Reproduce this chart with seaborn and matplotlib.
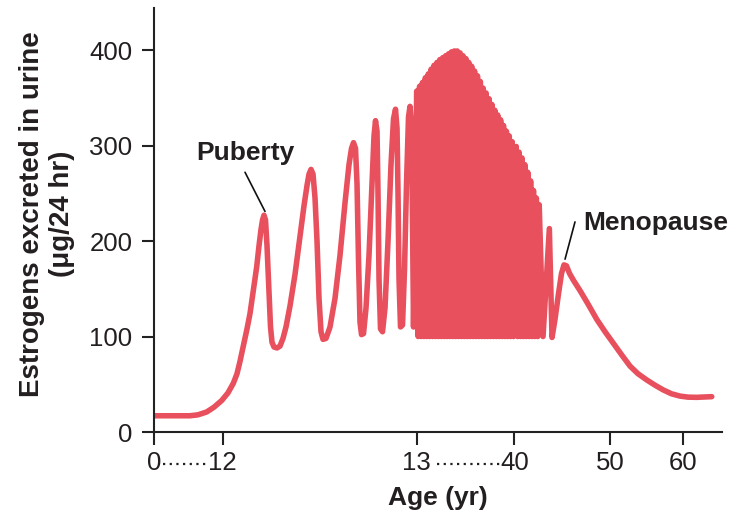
import numpy as np
import pandas as pd
import matplotlib
matplotlib.use("Agg")
import matplotlib.pyplot as plt
import matplotlib.transforms as mtransforms
import seaborn as sns

# ---------------- data (age in years, estrogens in µg/24 hr) ----------------
early_age = [0.0, 6.29, 7.69, 9.21, 10.48, 11.83,
             12.0273, 12.0546, 12.0737, 12.0892, 12.1021, 12.1098, 12.1253, 12.1407,
             12.1562, 12.1753, 12.1871, 12.1974, 12.2052, 12.2129, 12.2206, 12.2284,
             12.2387, 12.2464, 12.2541, 12.2644, 12.2799, 12.2954, 12.3108, 12.3263,
             12.3469, 12.3727, 12.3985, 12.4191, 12.4345, 12.4448, 12.4552, 12.4655,
             12.4758, 12.4861, 12.4964, 12.5067, 12.5170, 12.5325, 12.5531, 12.5789,
             12.6046, 12.6304, 12.6510, 12.6639, 12.6742, 12.6845, 12.6923, 12.7000,
             12.7077, 12.7155, 12.7258, 12.7387, 12.7541, 12.7696, 12.7799, 12.7876,
             12.7954, 12.8005, 12.8057, 12.8134, 12.8237, 12.8366, 12.8521, 12.8675,
             12.8804, 12.8907, 12.8985, 12.9036, 12.9088, 12.9165, 12.9268, 12.9371,
             12.9474, 12.9577, 12.9655, 12.9732, 12.9784, 12.9835]
early_val = [17, 17, 18, 21, 26, 33,
             41, 51, 61, 74, 86, 93, 108, 124,
             146, 173, 195, 212, 222, 227, 222, 195,
             145, 110, 94, 89, 88, 90, 98, 110,
             132, 165, 205, 237, 258, 270, 275, 270,
             245, 200, 140, 105, 97, 98, 110, 140,
             185, 240, 280, 297, 303, 297, 260, 180,
             115, 102, 103, 130, 185, 260, 310, 326,
             315, 250, 160, 108, 105, 130, 200, 280,
             328, 338, 318, 250, 160, 110, 112, 170,
             260, 330, 341, 320, 220, 110]

band_peak_age = [13.0, 13.8, 14.6, 15.4, 16.2, 17.0, 17.8, 18.6, 19.4, 20.2, 21.0,
                 21.8, 22.6, 23.4, 24.2, 25.0, 25.8, 26.6, 27.4, 28.2, 29.0, 29.8,
                 30.6, 31.4, 32.2, 33.0, 33.8, 34.6, 35.4, 36.2, 37.0, 37.8, 38.6,
                 39.4, 40.2, 40.5, 40.8, 41.1, 41.4, 41.7, 42.0, 42.3, 42.6]
band_peak_val = [357, 362, 366, 371, 375, 380, 384, 387, 390, 392, 394,
                 396, 398, 399, 399, 397, 394, 391, 387, 383, 378, 373,
                 367, 360, 355, 349, 343, 337, 332, 327, 321, 315, 310,
                 304, 299, 293, 287, 280, 272, 263, 253, 245, 238]
band_trough_val = 100

late_age = [43.0, 43.66, 43.94, 44.25, 44.62, 44.93, 45.19, 45.45, 45.77, 46.17,
            46.87, 47.70, 48.61, 49.48, 50.45, 51.58, 52.75, 53.85, 55.05, 56.19,
            57.33, 58.46, 59.63, 60.73, 61.93, 63.99]
late_val = [100, 213, 99, 118, 145, 166, 175, 174, 166, 159,
            148, 134, 118, 105, 93, 81, 69, 61, 54.5, 49,
            44, 40, 37.6, 36.5, 36.3, 37]

xtick_ages = [0, 12, 13, 40, 50, 60]
xtick_labels = ["0", "12", "13", "40", "50", "60"]
ytick_vals = [0, 100, 200, 300, 400]

# ---------------- assemble the curve ----------------
band_age, band_val = [], []
for i, (a, v) in enumerate(zip(band_peak_age, band_peak_val)):
    band_age.append(a)
    band_val.append(v)
    if i < len(band_peak_age) - 1:
        band_age.append((a + band_peak_age[i + 1]) / 2)
        band_val.append(band_trough_val)

df = pd.DataFrame({
    "age": early_age + band_age + late_age,
    "estrogen": early_val + band_val + late_val,
})

# ---------------- broken (piecewise) age axis ----------------
AXIS_AGE = np.array([-10, 0, 12, 13, 40, 50, 60, 80], float)
AXIS_POS = np.array([-57.25, 0, 68.7, 262.7, 360.3, 456.0, 528.7, 674.1])


def fwd(a):
    return np.interp(np.asarray(a, float), AXIS_AGE, AXIS_POS)


def inv(p):
    return np.interp(np.asarray(p, float), AXIS_POS, AXIS_AGE)


# ---------------- style ----------------
sns.set_theme(style="ticks")
plt.rcParams["font.family"] = ["Liberation Sans", "DejaVu Sans"]
TXT = "#231F20"
RED = "#E8505E"

fig = plt.figure(figsize=(7.35, 5.21), dpi=100)
ax = fig.add_axes([154 / 735, 89 / 521, (721.7 - 154) / 735, (513 - 89) / 521])
ax.set_xscale("function", functions=(fwd, inv))

sns.lineplot(data=df, x="age", y="estrogen", sort=False, estimator=None,
             color=RED, linewidth=4.0, ax=ax,
             solid_joinstyle="round", solid_capstyle="round")

ax.set_xlim(0, 65.36)
ax.set_ylim(0, 444)
ax.set_xticks(xtick_ages)
ax.set_xticklabels(xtick_labels)
ax.set_yticks(ytick_vals)
ax.set_yticklabels([str(v) for v in ytick_vals])
ax.minorticks_off()

sns.despine(ax=ax)
for s in ("left", "bottom"):
    ax.spines[s].set_linewidth(1.5)
    ax.spines[s].set_color("#222222")
ax.tick_params(axis="both", length=9, width=1.5, color="#222222",
               labelsize=18.5, labelcolor=TXT)
ax.tick_params(axis="x", pad=4.5)
ax.tick_params(axis="y", pad=6.5)

ax.set_xlabel("Age (yr)", fontsize=19, fontweight="bold", color=TXT)
ax.xaxis.set_label_coords(0.5, -0.128)
ax.set_ylabel("Estrogens excreted in urine\n(μg/24 hr)", fontsize=20,
              fontweight="bold", color=TXT, linespacing=1.2)
ax.yaxis.set_label_coords(-0.14, 0.515)

# dotted connectors between broken-axis tick labels
blend = mtransforms.blended_transform_factory(ax.transData, ax.transAxes)
for a0, a1 in [(1.6, 9.2), (18.6, 36.0)]:
    ax.plot([a0, a1], [-0.075, -0.075], transform=blend, clip_on=False,
            color=TXT, lw=1.6, linestyle=(0, (1, 2)))

# annotations
ax.text(12.115, 285, "Puberty", ha="center", va="baseline",
        fontsize=19, fontweight="bold", color=TXT)
ax.plot([12.115, 12.218], [272, 231], color="#111111", lw=1.2)
ax.text(47.18, 211.5, "Menopause", ha="left", va="baseline",
        fontsize=19, fontweight="bold", color=TXT, clip_on=False)
ax.plot([46.34, 45.3], [220, 181], color="#111111", lw=1.2)

fig.savefig("out.png", dpi=100)
